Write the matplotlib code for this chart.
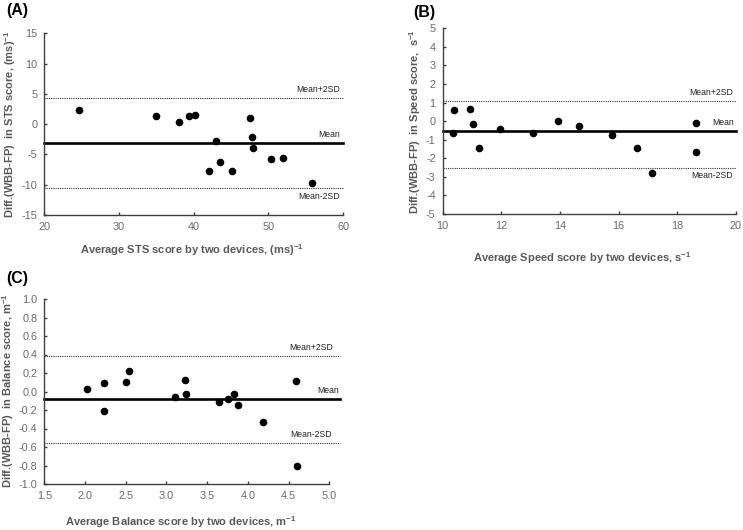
import matplotlib
matplotlib.use("Agg")
import matplotlib.pyplot as plt

plt.rcParams['font.family'] = ['Liberation Sans', 'DejaVu Sans']
plt.rcParams['mathtext.fontset'] = 'custom'
plt.rcParams['mathtext.rm'] = 'Liberation Sans'
plt.rcParams['mathtext.default'] = 'regular'

# ---- data ----
sts_avg = [24.7, 35.0, 38.1, 39.4, 40.2, 47.5, 43.0, 47.8, 48.0, 42.1, 43.5, 45.2, 50.4, 51.9, 55.9]
sts_diff = [2.3, 1.35, 0.42, 1.35, 1.5, 0.98, -2.72, -2.1, -3.97, -7.7, -6.2, -7.7, -5.8, -5.6, -9.77]
sts_lines = [4.28, -3.15, -10.58]   # Mean+2SD, Mean, Mean-2SD

speed_avg = [10.4, 10.36, 10.93, 11.05, 11.25, 11.94, 13.09, 13.93, 14.66, 15.76, 16.62, 17.15, 18.63, 18.63]
speed_diff = [0.59, -0.65, 0.67, -0.18, -1.46, -0.41, -0.65, 0.0, -0.25, -0.72, -1.46, -2.79, -0.11, -1.64]
speed_lines = [1.06, -0.53, -2.5]

bal_avg = [2.02, 2.23, 2.23, 2.5, 2.54, 3.11, 3.23, 3.24, 3.64, 3.75, 3.83, 3.88, 4.19, 4.59, 4.6]
bal_diff = [0.03, 0.095, -0.21, 0.106, 0.225, -0.063, 0.128, -0.027, -0.113, -0.078, -0.027, -0.15, -0.33, 0.117, -0.805]
bal_lines = [0.387, -0.081, -0.56]

line_labels = ['Mean+2SD', 'Mean', 'Mean-2SD']

W, H = 743, 530
fig = plt.figure(figsize=(W / 100, H / 100), dpi=100)

GRAY = '#595959'
TICKGRAY = '#6a6a6a'
SPINE = '#404040'


def px_axes(l, t, r, b):
    return fig.add_axes([l / W, 1 - b / H, (r - l) / W, (b - t) / H])


def make_panel(rect, x, y, lines, xlim, ylim, xticks, yticks, xfmt, yfmt,
               xlabel, ylabel, letter, letter_xy, xlab_xy, ylab_xy,
               text_offsets, line_end):
    ax = px_axes(*rect)
    ax.set_xlim(*xlim)
    ax.set_ylim(*ylim)
    for s in ['top', 'right']:
        ax.spines[s].set_visible(False)
    for s in ['left', 'bottom']:
        ax.spines[s].set_color(SPINE)
        ax.spines[s].set_linewidth(1.0)
    ax.set_xticks(xticks)
    ax.set_yticks(yticks)
    ax.set_xticklabels([xfmt.format(v) for v in xticks])
    ax.set_yticklabels([yfmt.format(v) for v in yticks])
    ax.tick_params(direction='in', length=2.5, width=1.0, color=SPINE,
                   labelsize=7.8, labelcolor=TICKGRAY, pad=5)
    ax.scatter(x, y, s=20, color='black', zorder=3, clip_on=False)
    styles = [dict(color='#333333', lw=0.8, ls=(0, (1, 1))),
              dict(color='black', lw=1.9, ls='-'),
              dict(color='#333333', lw=0.8, ls=(0, (1, 1)))]
    for val, st in zip(lines, styles):
        ax.plot([xlim[0], line_end], [val, val], clip_on=False, **st)
    for val, lab, (dx, dy, va) in zip(lines, line_labels, text_offsets):
        ax.annotate(lab, xy=(line_end, val), xycoords='data',
                    xytext=(dx, dy), textcoords='offset pixels',
                    ha='right', va=va, fontsize=6.2, color='#222222',
                    annotation_clip=False)
    ax.set_xlabel(xlabel, fontsize=8, fontweight='bold', color=GRAY)
    ax.set_ylabel(ylabel, fontsize=8, fontweight='bold', color=GRAY)
    ax.xaxis.label.set_va('center')
    ax.yaxis.label.set_va('center')
    ax.xaxis.set_label_coords(xlab_xy[0] / W, 1 - xlab_xy[1] / H, transform=fig.transFigure)
    ax.yaxis.set_label_coords(ylab_xy[0] / W, 1 - ylab_xy[1] / H, transform=fig.transFigure)
    fig.text(letter_xy[0] / W, 1 - letter_xy[1] / H, letter, fontsize=11.5,
             fontweight='bold', color='black', ha='left', va='center')
    return ax


# Panel A
make_panel((44.3, 33.3, 343, 215), sts_avg, sts_diff, sts_lines,
           (20, 60), (-15, 15), [20, 30, 40, 50, 60], [-15, -10, -5, 0, 5, 10, 15],
           '{:g}', '{:g}',
           'Average STS score by two devices, (ms)$^{-1}$',
           'Diff.(WBB-FP)  in STS score, (ms)$^{-1}$',
           '(A)', (6, 11), (192, 250), (10, 124),
           [(-3, 4, 'bottom'), (-3, 4, 'bottom'), (-3, -4, 'top')], 60)

# Panel B
make_panel((442.7, 28.3, 736, 214), speed_avg, speed_diff, speed_lines,
           (10, 20), (-5, 5), [10, 12, 14, 16, 18, 20], list(range(-5, 6)),
           '{:g}', '{:g}',
           'Average Speed score by two devices, s$^{-1}$',
           'Diff.(WBB-FP)  in Speed score,  s$^{-1}$',
           '(B)', (413, 12), (582, 258), (415, 121),
           [(-3, 4, 'bottom'), (-2, 4, 'bottom'), (-3, -3, 'top')], 20)

# Panel C
make_panel((44.3, 299, 329.3, 484), bal_avg, bal_diff, bal_lines,
           (1.5, 5.0), (-1.0, 1.0), [1.5, 2.0, 2.5, 3.0, 3.5, 4.0, 4.5, 5.0],
           [-1.0, -0.8, -0.6, -0.4, -0.2, 0.0, 0.2, 0.4, 0.6, 0.8, 1.0],
           '{:.1f}', '{:.1f}',
           'Average Balance score by two devices, m$^{-1}$',
           'Diff.(WBB-FP)  in Balance score, m$^{-1}$',
           '(C)', (6, 279), (181, 522), (8, 391),
           [(-7, 4, 'bottom'), (-1, 4, 'bottom'), (-8, 4, 'bottom')], 5.13)

fig.savefig('out.png', dpi=100)
